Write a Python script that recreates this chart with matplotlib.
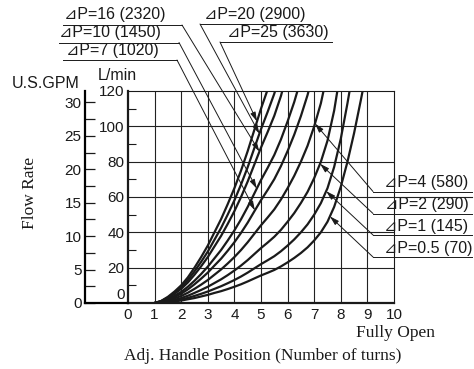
import numpy as np
import matplotlib
matplotlib.use('Agg')
import matplotlib.pyplot as plt
from matplotlib.lines import Line2D
from matplotlib.transforms import ScaledTranslation

# handle position (turns) where flow was read
turns = [1.0, 1.25, 1.5, 1.75, 2.0, 2.25, 2.5, 2.75, 3.0, 3.25, 3.5, 3.75,
         4.0, 4.25, 4.5, 4.75, 5.0, 5.25, 5.5, 5.75, 6.0, 6.25, 6.5, 6.75,
         7.0, 7.25, 7.5, 7.75, 8.0, 8.25, 8.5, 8.75]

# flow (L/min) for each pressure drop, last point is where curve hits 120
q_25 = [0, 1.2, 3.5, 6.5, 10, 14.5, 20, 26, 32.5, 40, 47.5, 56, 65, 75, 86, 98, 110]
q_20 = [0, 1.1, 3.1, 5.8, 8.9, 13.0, 17.9, 23.3, 29.1, 35.8, 42.5, 50.1, 58.1,
        67.1, 76.9, 87.7, 98.4, 108.2, 118.5]
q_16 = [0, 1, 2.8, 5.2, 8, 11.6, 16, 20.8, 26, 32, 38, 44.8, 52, 60, 68.8, 78.4,
        88, 96.8, 106, 117.2]
q_10 = [0, 0.8, 2.2, 4.1, 6.3, 9.2, 12.6, 16.4, 20.6, 25.3, 30.0, 35.4, 41.1,
        47.4, 54.4, 62.0, 69.6, 76.5, 83.8, 92.6, 102.8, 113.8]
q_7 = [0, 0.7, 1.9, 3.4, 5.3, 7.7, 10.6, 13.8, 17.2, 21.2, 25.1, 29.6, 34.4,
       39.7, 45.5, 51.9, 58.2, 64.0, 70.1, 77.5, 86.0, 95.3, 105.8, 117.7]
q_4 = [0, 0.5, 1.4, 2.6, 4, 5.8, 8, 10.4, 13, 16, 19, 22.4, 26, 30, 34.4, 39.2,
       44, 48.4, 53, 58.6, 65, 72, 80, 89, 100, 113]
q_2 = [0, 0.35, 1.0, 1.8, 2.8, 4.1, 5.7, 7.4, 9.2, 11.3, 13.4, 15.8, 18.4, 21.2,
       24.3, 27.7, 31.1, 34.2, 37.5, 41.4, 46.0, 50.9, 56.6, 62.9, 70.7, 79.9,
       91.9, 108.9]
q_1 = [0, 0.25, 0.7, 1.3, 2.0, 2.9, 4.0, 5.2, 6.5, 8.0, 9.5, 11.2, 13.0, 15.0,
       17.2, 19.6, 22.0, 24.2, 26.5, 29.3, 32.5, 36.0, 40.0, 44.5, 50.0, 56.5,
       65.0, 77.0, 93.0, 113]
q_05 = [0, 0.2, 0.5, 0.9, 1.4, 2.1, 2.8, 3.7, 4.6, 5.7, 6.7, 7.9, 9.2, 10.6,
        12.2, 13.9, 15.6, 17.1, 18.7, 20.7, 23.0, 25.5, 28.3, 31.5, 35.4, 40.0,
        46.0, 54.4, 65.8, 79.9, 96.2, 114.6]
top_x = {'25': 5.23, '20': 5.53, '16': 5.80, '10': 6.37, '7': 6.79,
         '4': 7.35, '2': 7.87, '1': 8.33, '0.5': 8.82}
flows = {'25': q_25, '20': q_20, '16': q_16, '10': q_10, '7': q_7,
         '4': q_4, '2': q_2, '1': q_1, '0.5': q_05}

labels = {'16': '⊿P=16 (2320)', '10': '⊿P=10 (1450)', '7': '⊿P=7 (1020)',
          '20': '⊿P=20 (2900)', '25': '⊿P=25 (3630)', '4': '⊿P=4 (580)',
          '2': '⊿P=2 (290)', '1': '⊿P=1 (145)', '0.5': '⊿P=0.5 (70)'}
# turns where the leader arrow touches each curve
arrow_x = {'25': 4.85, '20': 4.94, '16': 4.94, '10': 4.84, '7': 4.77,
           '4': 7.03, '2': 7.22, '1': 7.45, '0.5': 7.59}

lmin_ticks = [0, 20, 40, 60, 80, 100, 120]
gpm_ticks = [0, 5, 10, 15, 20, 25, 30]
x_ticks = list(range(11))

W, H = 474, 369
def fx(px): return px / W
def fy(py): return 1 - py / H

sans = ['Liberation Sans', 'DejaVu Sans']
serif = ['Liberation Serif', 'DejaVu Serif']
ink = '#1a1a1a'

fig = plt.figure(figsize=(4.74, 3.69), dpi=100)
fig.patch.set_facecolor('white')
L, R, T, B = 128, 394, 91, 303
ax = fig.add_axes([fx(L), fy(B), fx(R) - fx(L), fy(T) - fy(B)])
ax.set_xlim(0, 10)
ax.set_ylim(0, 120)

for x in range(1, 10):
    ax.axvline(x, color='#222222', lw=0.8, zorder=1)
for y in range(20, 120, 20):
    ax.axhline(y, color='#222222', lw=0.8, zorder=1)
# the 60 line runs on under the right labels
ax.plot([10, (472 - L) / 26.6], [60, 60], color='#222222', lw=0.8, clip_on=False)

for k, q in flows.items():
    xs = turns[:len(q)] + [top_x[k]]
    ys = q + [120]
    ax.plot(xs, ys, color=ink, lw=1.6, solid_capstyle='round',
            solid_joinstyle='round', zorder=3)

ax.spines['left'].set_linewidth(1.6)
ax.spines['bottom'].set_linewidth(1.6)
ax.spines['top'].set_linewidth(0.8)
ax.spines['right'].set_linewidth(0.8)
for s in ax.spines.values():
    s.set_color(ink)

ax.set_xticks(x_ticks)
ax.set_xticklabels([str(v) for v in x_ticks], fontsize=11, family=sans, color=ink)
ax.set_yticks(lmin_ticks)
ax.set_yticklabels([str(v) for v in lmin_ticks], fontsize=11, family=sans, color=ink)
ax.set_yticks(range(10, 120, 20), minor=True)
ax.tick_params(axis='x', length=0, pad=3.5)
ax.tick_params(axis='y', which='major', length=0, pad=2.5)
ax.tick_params(axis='y', which='minor', direction='in', length=5.5, width=0.8, color=ink)
lab0 = ax.get_yticklabels()[0]
lab0.set_transform(lab0.get_transform() + ScaledTranslation(0, 7 / 72, fig.dpi_scale_trans))

# U.S.GPM scale
axg = fig.add_axes([fx(85), fy(B), fx(L) - fx(85), fy(T) - fy(B)])
axg.set_ylim(0, 120 / 3.785)
axg.set_xlim(0, 1)
axg.patch.set_alpha(0)
for s in ['top', 'right']:
    axg.spines[s].set_visible(False)
axg.spines['left'].set_linewidth(1.6)
axg.spines['bottom'].set_linewidth(1.6)
axg.set_xticks([])
axg.set_yticks(gpm_ticks)
axg.set_yticklabels([str(v) for v in gpm_ticks], fontsize=11, family=sans, color=ink)
axg.set_yticks(np.arange(2.5, 30, 5), minor=True)
axg.tick_params(axis='y', which='both', direction='in', length=7.5, width=0.9, pad=2.5, color=ink)

fig.text(fx(12), fy(83), 'U.S.GPM', fontsize=11.5, family=sans, color=ink, va='center', ha='left')
fig.text(fx(117), fy(75), 'L/min', fontsize=11.5, family=sans, color=ink, va='center', ha='center')
fig.text(fx(30), fy(193), 'Flow Rate', fontsize=12.5, family=serif, color=ink,
         rotation=90, va='center', ha='center')
fig.text(fx(396), fy(333), 'Fully Open', fontsize=12.5, family=serif, color=ink,
         va='center', ha='center')
fig.text(fx(263), fy(356), 'Adj. Handle Position (Number of turns)', fontsize=12.5,
         family=serif, color=ink, va='center', ha='center')

# label text pos, underline (y, x0, x1), leader start
lab_layout = {
    '16': ((64, 15), (25, 63, 182), (182, 25)),
    '10': ((59, 33), (42.5, 59, 179), (179, 42.5)),
    '7': ((66, 51), (60, 63, 177), (177, 60)),
    '20': ((204, 15), (24, 200, 310), (200, 24)),
    '25': ((227, 33), (42, 220, 332), (220, 42)),
    '4': ((384, 182), (191.5, 373, 472), (373, 191.5)),
    '2': ((385, 204), (213.5, 373, 472), (373, 213.5)),
    '1': ((384, 226), (235, 373, 472), (373, 235)),
    '0.5': ((384, 248), (257, 373, 472), (373, 257)),
}
for k, ((tx, ty), (uy, u0, u1), (sx, sy)) in lab_layout.items():
    fig.text(fx(tx), fy(ty), labels[k], fontsize=11.5, family=sans, color=ink,
             va='center', ha='left')
    fig.add_artist(Line2D([fx(u0), fx(u1)], [fy(uy), fy(uy)], transform=fig.transFigure,
                          lw=0.7, color=ink))
    q = flows[k]
    xs = turns[:len(q)] + [top_x[k]]
    ys = q + [120]
    ax_x = arrow_x[k]
    ax_y = np.interp(ax_x, xs, ys)
    ax.annotate('', xy=(ax_x, ax_y), xycoords='data', xytext=(fx(sx), fy(sy)),
                textcoords='figure fraction', annotation_clip=False,
                arrowprops=dict(arrowstyle='-|>,head_length=0.55,head_width=0.16',
                                lw=0.7, color=ink, shrinkA=0, shrinkB=0), zorder=4)

fig.savefig('out.png', dpi=100, facecolor='white')
